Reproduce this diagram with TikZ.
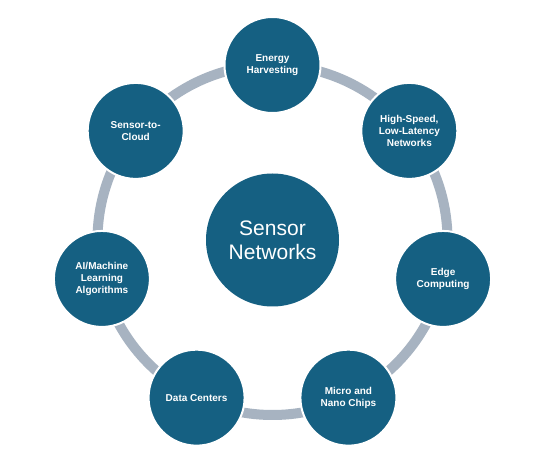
\documentclass[tikz,border=0pt]{standalone}
\usepackage{fontspec}
\setmainfont{Liberation Sans}
\definecolor{nodeblue}{HTML}{156082}
\definecolor{ringgray}{HTML}{A7B3C1}
\begin{document}
\begin{tikzpicture}[x=1pt,y=1pt,
  ring/.style={draw=ringgray, line width=10pt},
  topic/.style={circle, fill=nodeblue, draw=white, line width=2pt,
    minimum size=96pt, inner sep=0pt, align=center, text=white,
    font=\bfseries\fontsize{10}{12}\selectfont},
  hubnode/.style={circle, fill=nodeblue, minimum size=133pt, inner sep=0pt,
    align=center, text=white, font=\fontsize{21}{24}\selectfont}]
\useasboundingbox[fill=white] (0,0) rectangle (544,458);
\coordinate (c) at (272.5,218);
\draw[ring] (c) circle[radius=175];
\node[hubnode] (hub) at (c) {Sensor\\Networks};
\node[topic] (energy) at ([shift={(90:175)}]c) {Energy\\Harvesting};
\node[topic] (speed) at ([shift={(38.571:175)}]c) {High-Speed,\\Low-Latency\\Networks};
\node[topic] (edge) at ([shift={(-12.857:175)}]c) {Edge\\Computing};
\node[topic] (chips) at ([shift={(-64.286:175)}]c) {Micro and\\Nano Chips};
\node[topic] (data) at ([shift={(-115.714:175)}]c) {Data Centers};
\node[topic] (ai) at ([shift={(-167.143:175)}]c) {AI/Machine\\Learning\\Algorithms};
\node[topic] (cloud) at ([shift={(141.429:175)}]c) {Sensor-to-\\Cloud};
\end{tikzpicture}
\end{document}
